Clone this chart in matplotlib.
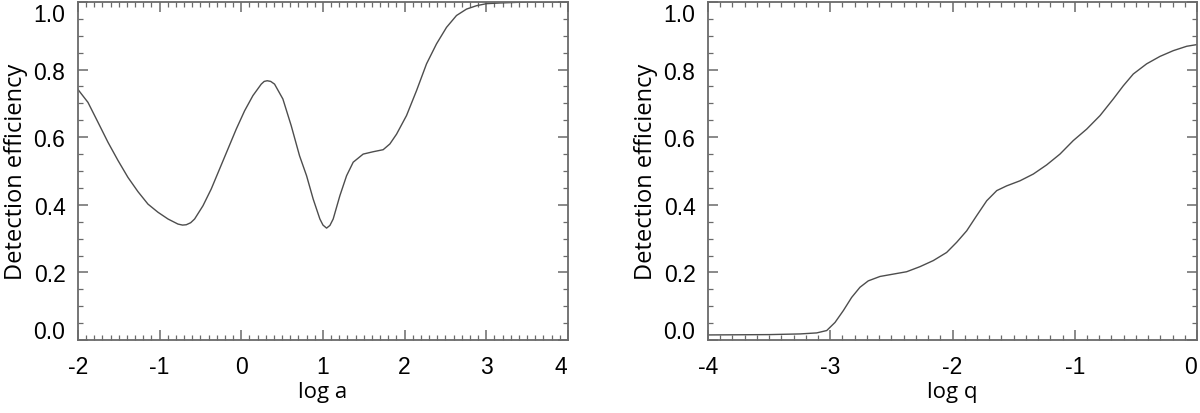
import numpy as np
import matplotlib.pyplot as plt
from matplotlib.ticker import MultipleLocator
from matplotlib.transforms import ScaledTranslation

# left panel: detection efficiency vs log a
loga = [-2.0, -1.878, -1.755, -1.633, -1.51, -1.388, -1.266, -1.143, -1.021, -0.898,
        -0.776, -0.72, -0.674, -0.62, -0.572, -0.47, -0.368, -0.266, -0.164, -0.062,
        0.040, 0.142, 0.244, 0.28, 0.317, 0.36, 0.407, 0.509, 0.611, 0.713,
        0.799, 0.880, 0.962, 1.0, 1.044, 1.085, 1.125, 1.207, 1.289, 1.370,
        1.492, 1.615, 1.737, 1.819, 1.901, 2.023, 2.146, 2.268, 2.390, 2.513,
        2.635, 2.758, 2.880, 3.002, 3.165, 3.5, 4.0]
eff_a = [0.741, 0.703, 0.644, 0.585, 0.531, 0.481, 0.439, 0.402, 0.378, 0.358,
         0.343, 0.340, 0.341, 0.347, 0.358, 0.397, 0.447, 0.506, 0.565, 0.624,
         0.678, 0.723, 0.757, 0.765, 0.767, 0.765, 0.757, 0.713, 0.634, 0.545,
         0.486, 0.417, 0.358, 0.340, 0.331, 0.339, 0.358, 0.427, 0.486, 0.526,
         0.550, 0.557, 0.563, 0.580, 0.609, 0.664, 0.738, 0.817, 0.876, 0.925,
         0.960, 0.979, 0.989, 0.995, 0.997, 1.0, 1.0]

# right panel: detection efficiency vs log q
logq = [-4.0, -3.5, -3.247, -3.111, -3.029, -2.961, -2.893, -2.825, -2.757, -2.689,
        -2.593, -2.484, -2.375, -2.266, -2.157, -2.048, -1.966, -1.884, -1.802, -1.720,
        -1.638, -1.557, -1.448, -1.339, -1.230, -1.121, -1.012, -0.902, -0.793, -0.685,
        -0.603, -0.521, -0.412, -0.303, -0.194, -0.084, 0.0]
eff_q = [0.015, 0.016, 0.018, 0.021, 0.028, 0.052, 0.087, 0.126, 0.156, 0.175,
         0.188, 0.195, 0.202, 0.217, 0.235, 0.259, 0.289, 0.323, 0.368, 0.412,
         0.442, 0.456, 0.471, 0.491, 0.518, 0.550, 0.590, 0.624, 0.664, 0.713,
         0.752, 0.787, 0.817, 0.839, 0.856, 0.869, 0.874]

fig = plt.figure(figsize=(12, 4.14), dpi=100)
ax1 = fig.add_axes([0.065, 0.1763, 0.4083, 0.8165])
ax2 = fig.add_axes([0.59, 0.1763, 0.4075, 0.8165])

line_col = '#4d4d4d'
spine_col = '#6a6a6a'
tick_font = {'family': 'Liberation Sans', 'size': 16.5}
xlab_font = {'family': 'Open Sans', 'size': 16}
ylab_font = {'family': 'Open Sans', 'size': 17}


def style(ax, x, y, xlim, xlabel):
    ax.plot(x, y, color=line_col, lw=1.0)
    ax.set_xlim(*xlim)
    ax.set_ylim(0, 1)
    ax.xaxis.set_minor_locator(MultipleLocator(0.1))
    ax.yaxis.set_minor_locator(MultipleLocator(0.05))
    yt = np.arange(0, 1.01, 0.2)
    ax.set_yticks(yt)
    ax.set_yticklabels(['%.1f' % v for v in yt], fontdict=tick_font)
    xt = np.arange(xlim[0], xlim[1] + 0.01, 1)
    ax.set_xticks(xt)
    ax.set_xticklabels(['%d' % v for v in xt], fontdict=tick_font)
    ax.tick_params(which='both', direction='in', top=True, right=True, color=spine_col)
    ax.tick_params(which='major', length=7, width=1.1)
    ax.tick_params(which='minor', length=3.5, width=0.9)
    ax.tick_params(axis='x', pad=11)
    ax.tick_params(axis='y', pad=9)
    for s in ax.spines.values():
        s.set_color(spine_col)
        s.set_linewidth(1.3)
    ax.set_xlabel(xlabel, fontdict=xlab_font, labelpad=2)
    ax.set_ylabel('Detection efficiency', fontdict=ylab_font, labelpad=4)
    # end labels nudged inward like the original
    ylabs = ax.get_yticklabels()
    ylabs[0].set_transform(ylabs[0].get_transform() + ScaledTranslation(0, 8 / 72, fig.dpi_scale_trans))
    ylabs[-1].set_transform(ylabs[-1].get_transform() + ScaledTranslation(0, -7 / 72, fig.dpi_scale_trans))
    xlabs = ax.get_xticklabels()
    xlabs[-1].set_transform(xlabs[-1].get_transform() + ScaledTranslation(-5 / 72, 0, fig.dpi_scale_trans))


style(ax1, loga, eff_a, (-2, 4), 'log a')
style(ax2, logq, eff_q, (-4, 0), 'log q')

fig.savefig('out.png', dpi=100)
